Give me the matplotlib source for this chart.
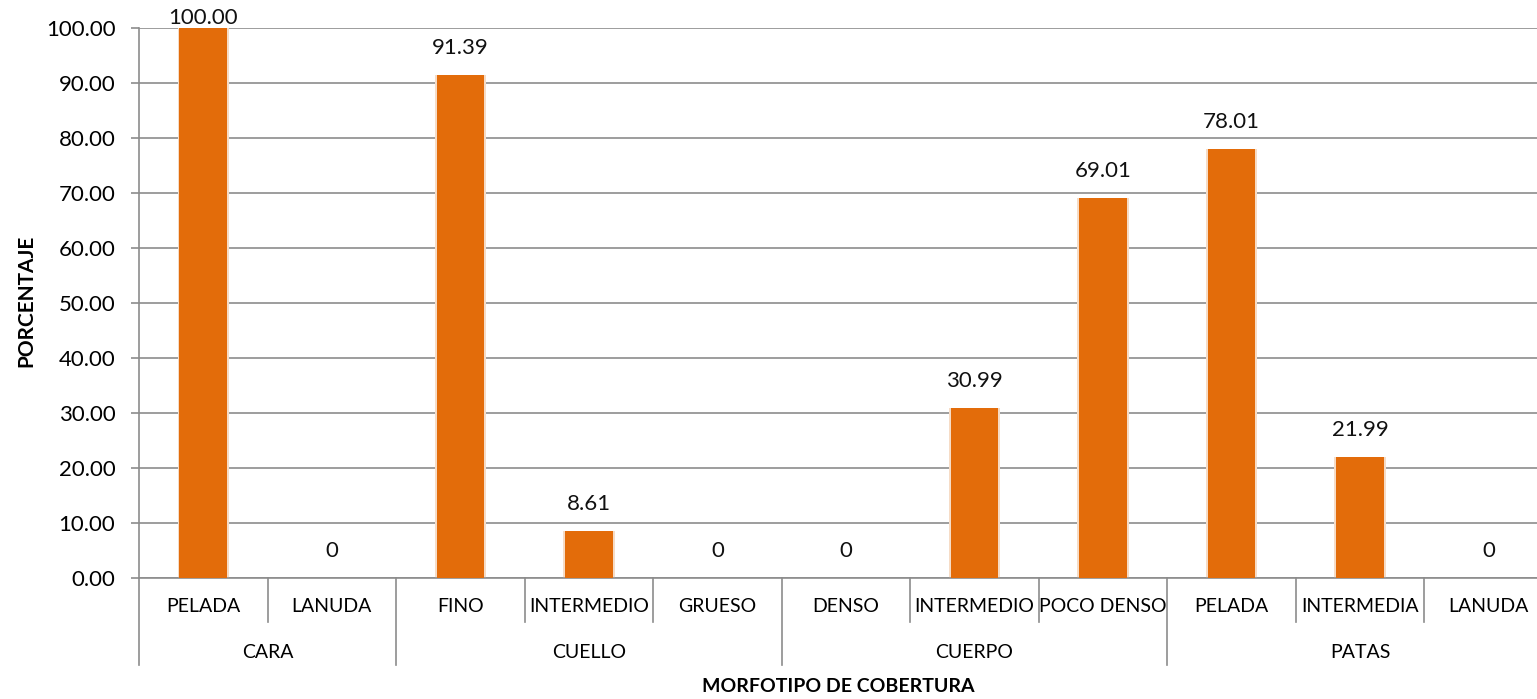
import matplotlib
matplotlib.use("Agg")
import matplotlib.pyplot as plt
import numpy as np

subcats = ["PELADA", "LANUDA", "FINO", "INTERMEDIO", "GRUESO", "DENSO",
           "INTERMEDIO", "POCO DENSO", "PELADA", "INTERMEDIA", "LANUDA"]
groups = ["CARA", "CUELLO", "CUERPO", "PATAS"]
group_sizes = [2, 3, 3, 3]
values = [100.00, 0, 91.39, 8.61, 0, 0, 30.99, 69.01, 78.01, 21.99, 0]
yticks = [0, 10, 20, 30, 40, 50, 60, 70, 80, 90, 100]

plt.rcParams['font.family'] = ['Lato', 'DejaVu Sans']
W, H = 1537, 699
fig = plt.figure(figsize=(W / 100, H / 100), dpi=100)
left, right, top, bottom = 139, 1553, 28, 578
ax = fig.add_axes([left / W, 1 - bottom / H, (right - left) / W, (bottom - top) / H])

orange = "#E36C0A"
grid_c = "#8C8C8C"
fs_cat = 14
x = np.arange(len(values))
# soft glow behind bars
ax.bar(x, values, width=0.40, color="#F6DCC6", zorder=2, linewidth=0)
ax.bar(x, values, width=0.37, color=orange, zorder=3, linewidth=0)

px_per_unit = (bottom - top) / 100
for xi, v in zip(x, values):
    txt = "0" if v == 0 else f"{v:.2f}"
    off = min(27, 10 + (100 - v) * px_per_unit)
    ax.annotate(txt, (xi, v), xytext=(0, off), textcoords="offset pixels",
                ha="center", va="center", fontsize=16, color="#111111", zorder=4,
                annotation_clip=False)

ax.set_xlim(-0.5, len(values) - 0.5)
ax.set_ylim(0, 100)
ax.set_yticks(yticks)
ax.set_yticklabels([f"{t:.2f}" for t in yticks], fontsize=16)
ax.yaxis.grid(True, color=grid_c, linewidth=1.2, zorder=1)
ax.set_axisbelow(True)
ax.tick_params(axis="y", length=6, color=grid_c, width=1.2, pad=11)
ax.tick_params(axis="x", length=0, labelbottom=False)
for s in ["top", "right"]:
    ax.spines[s].set_visible(False)
for s in ["left", "bottom"]:
    ax.spines[s].set_color(grid_c)
    ax.spines[s].set_linewidth(1.2)

# multi-level category axis
trans = ax.get_xaxis_transform()
ppx = 1 / (bottom - top)  # axes fraction per pixel (vertical)
y_sub = -29 * ppx
y_grp = -74 * ppx
for i, lab in enumerate(subcats):
    ax.text(i, y_sub, lab, ha="center", va="center", fontsize=fs_cat, transform=trans, clip_on=False)
grp_bounds = np.concatenate([[0], np.cumsum(group_sizes)])
for b in range(len(values) + 1):
    xb = b - 0.5
    end = -87 * ppx if b in grp_bounds else -44 * ppx
    ax.plot([xb, xb], [0, end], color=grid_c, linewidth=1.2, transform=trans, clip_on=False)
for g, lab in enumerate(groups):
    c = (grp_bounds[g] + grp_bounds[g + 1] - 1) / 2
    ax.text(c, y_grp, lab, ha="center", va="center", fontsize=fs_cat, transform=trans, clip_on=False)

fig.text(838 / W, 1 - 687 / H, "MORFOTIPO DE COBERTURA", ha="center", va="center",
         fontsize=14, fontweight="bold")
fig.text(26 / W, 1 - 301 / H, "PORCENTAJE", ha="center", va="center",
         fontsize=15, fontweight="bold", rotation=90)

fig.savefig("out.png", dpi=100)
